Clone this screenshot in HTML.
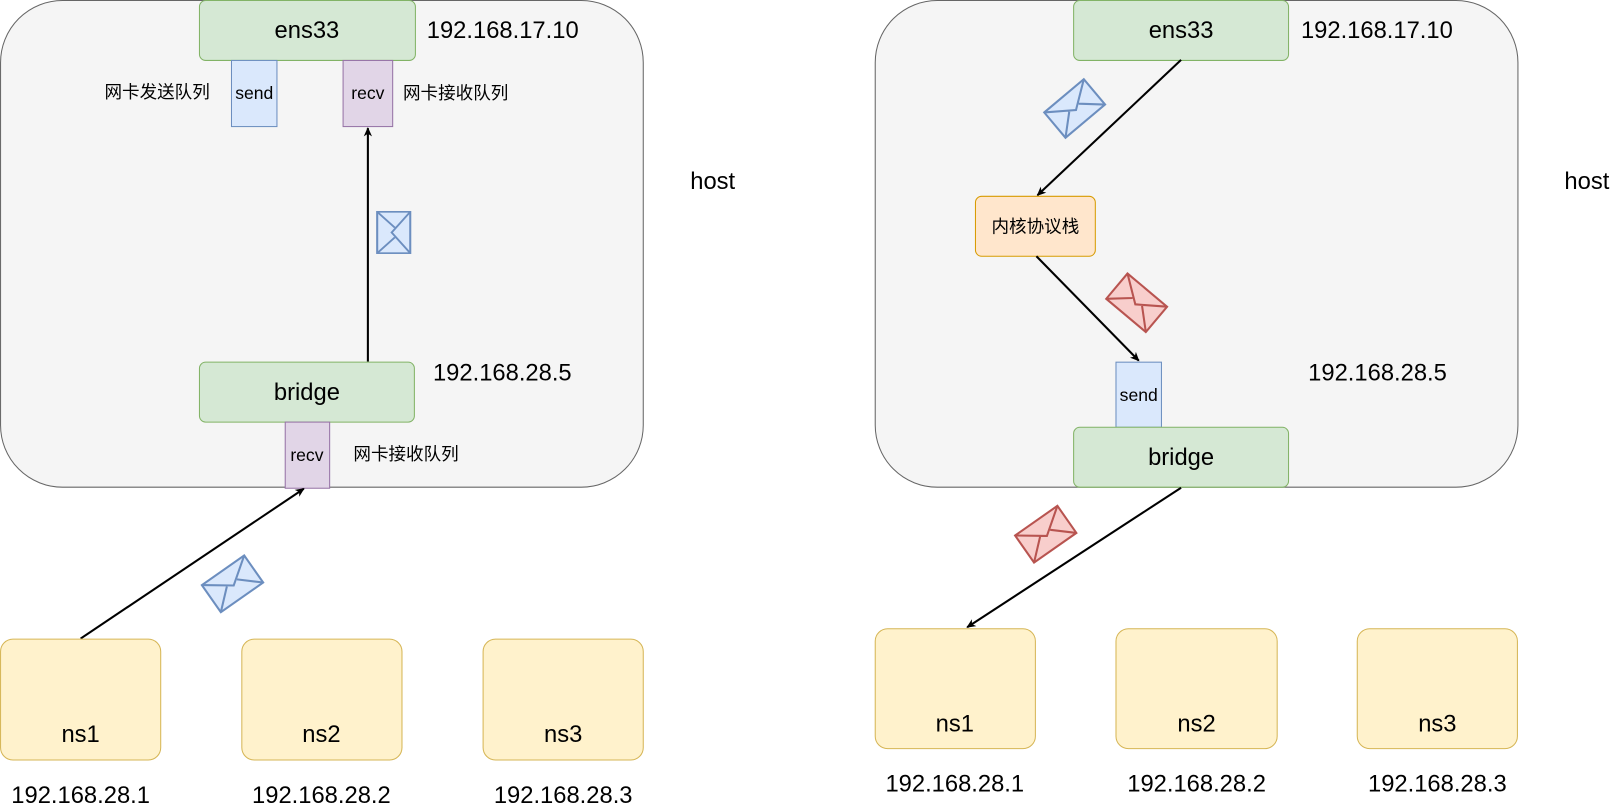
<!DOCTYPE html>
<html><head><meta charset="utf-8"><style>
html,body{margin:0;padding:0;background:#fff;}
svg{display:block;}
text{font-family:"Liberation Sans","Noto Sans CJK SC",sans-serif;fill:#000;}
</style></head><body>
<svg width="1612" height="807" viewBox="0 0 1560 781" xmlns="http://www.w3.org/2000/svg">
<defs>
<marker id="a" markerWidth="10" markerHeight="10" refX="8" refY="5" orient="auto" markerUnits="userSpaceOnUse"><path d="M0,1 L9,5 L0,9 L2.5,5 Z" fill="#000"/></marker>
<g id="env"><rect x="-25" y="-16" width="50" height="32"/><path d="M-25,-16 L0,2 L25,-16 M-25,16 L-6,-1 M25,16 L6,-1" fill="none"/></g>
</defs>
<!-- left -->
<rect x="0.5" y="0.5" width="622" height="471" rx="60" fill="#f5f5f5" stroke="#666"/>
<rect x="193" y="0.5" width="209" height="58" rx="6" fill="#d5e8d4" stroke="#82b366"/>
<text x="297" y="37" font-size="23" text-anchor="middle">ens33</text>
<text x="413" y="37" font-size="23">192.168.17.10</text>
<rect x="224" y="58.5" width="44" height="64" fill="#dae8fc" stroke="#6c8ebf"/>
<text x="246" y="96" font-size="17" text-anchor="middle">send</text>
<rect x="332" y="58.5" width="48" height="64" fill="#e1d5e7" stroke="#9673a6"/>
<text x="356" y="96" font-size="17" text-anchor="middle">recv</text>
<text x="203" y="95" font-size="17" text-anchor="end">网卡发送队列</text>
<text x="390" y="96" font-size="17">网卡接收队列</text>
<line x1="356" y1="350" x2="356" y2="124" stroke="#000" stroke-width="2" marker-end="url(#a)"/>
<use href="#env" transform="translate(381,225) rotate(90) scale(0.8,1)" fill="#dae8fc" stroke="#6c8ebf" stroke-width="2"/>
<rect x="193" y="350.5" width="208" height="58" rx="6" fill="#d5e8d4" stroke="#82b366"/>
<text x="297" y="387" font-size="23" text-anchor="middle">bridge</text>
<text x="419" y="368" font-size="23">192.168.28.5</text>
<rect x="276" y="408.5" width="43" height="64" fill="#e1d5e7" stroke="#9673a6"/>
<text x="297" y="446" font-size="17" text-anchor="middle">recv</text>
<text x="342" y="445" font-size="17">网卡接收队列</text>
<line x1="78" y1="618" x2="294" y2="473" stroke="#000" stroke-width="2" marker-end="url(#a)"/>
<use href="#env" transform="translate(225,565) rotate(-35)" fill="#dae8fc" stroke="#6c8ebf" stroke-width="2"/>
<rect x="0.5" y="618.5" width="155" height="117" rx="12" fill="#fff2cc" stroke="#d6b656"/>
<rect x="234" y="618.5" width="155" height="117" rx="12" fill="#fff2cc" stroke="#d6b656"/>
<rect x="467.5" y="618.5" width="155" height="117" rx="12" fill="#fff2cc" stroke="#d6b656"/>
<text x="78" y="718" font-size="23" text-anchor="middle">ns1</text>
<text x="311" y="718" font-size="23" text-anchor="middle">ns2</text>
<text x="545" y="718" font-size="23" text-anchor="middle">ns3</text>
<text x="78" y="777" font-size="23" text-anchor="middle">192.168.28.1</text>
<text x="311" y="777" font-size="23" text-anchor="middle">192.168.28.2</text>
<text x="545" y="777" font-size="23" text-anchor="middle">192.168.28.3</text>
<text x="668" y="183" font-size="23">host</text>
<!-- right -->
<rect x="847" y="0.5" width="622" height="471" rx="60" fill="#f5f5f5" stroke="#666"/>
<rect x="1039" y="0.5" width="208" height="58" rx="6" fill="#d5e8d4" stroke="#82b366"/>
<text x="1143" y="37" font-size="23" text-anchor="middle">ens33</text>
<text x="1259" y="37" font-size="23">192.168.17.10</text>
<line x1="1143" y1="58" x2="1004" y2="189" stroke="#000" stroke-width="2" marker-end="url(#a)"/>
<use href="#env" transform="translate(1040,105) rotate(-40)" fill="#dae8fc" stroke="#6c8ebf" stroke-width="2"/>
<rect x="944" y="190" width="116" height="58" rx="6" fill="#ffe6cc" stroke="#d79b00"/>
<text x="1002" y="225" font-size="17" text-anchor="middle">内核协议栈</text>
<line x1="1003" y1="248" x2="1102" y2="349" stroke="#000" stroke-width="2" marker-end="url(#a)"/>
<use href="#env" transform="translate(1100,293) rotate(40)" fill="#f8cecc" stroke="#b85450" stroke-width="2"/>
<rect x="1080" y="350.5" width="44" height="63" fill="#dae8fc" stroke="#6c8ebf"/>
<text x="1102" y="388" font-size="17" text-anchor="middle">send</text>
<text x="1266" y="368" font-size="23">192.168.28.5</text>
<rect x="1039" y="413.5" width="208" height="58" rx="6" fill="#d5e8d4" stroke="#82b366"/>
<text x="1143" y="450" font-size="23" text-anchor="middle">bridge</text>
<line x1="1143" y1="472" x2="936" y2="607" stroke="#000" stroke-width="2" marker-end="url(#a)"/>
<use href="#env" transform="translate(1012,517) rotate(-35)" fill="#f8cecc" stroke="#b85450" stroke-width="2"/>
<rect x="847" y="608.5" width="155" height="116" rx="12" fill="#fff2cc" stroke="#d6b656"/>
<rect x="1080" y="608.5" width="156" height="116" rx="12" fill="#fff2cc" stroke="#d6b656"/>
<rect x="1313.5" y="608.5" width="155" height="116" rx="12" fill="#fff2cc" stroke="#d6b656"/>
<text x="924" y="708" font-size="23" text-anchor="middle">ns1</text>
<text x="1158" y="708" font-size="23" text-anchor="middle">ns2</text>
<text x="1391" y="708" font-size="23" text-anchor="middle">ns3</text>
<text x="924" y="766" font-size="23" text-anchor="middle">192.168.28.1</text>
<text x="1158" y="766" font-size="23" text-anchor="middle">192.168.28.2</text>
<text x="1391" y="766" font-size="23" text-anchor="middle">192.168.28.3</text>
<text x="1514" y="183" font-size="23">host</text>
</svg>
</body></html>
